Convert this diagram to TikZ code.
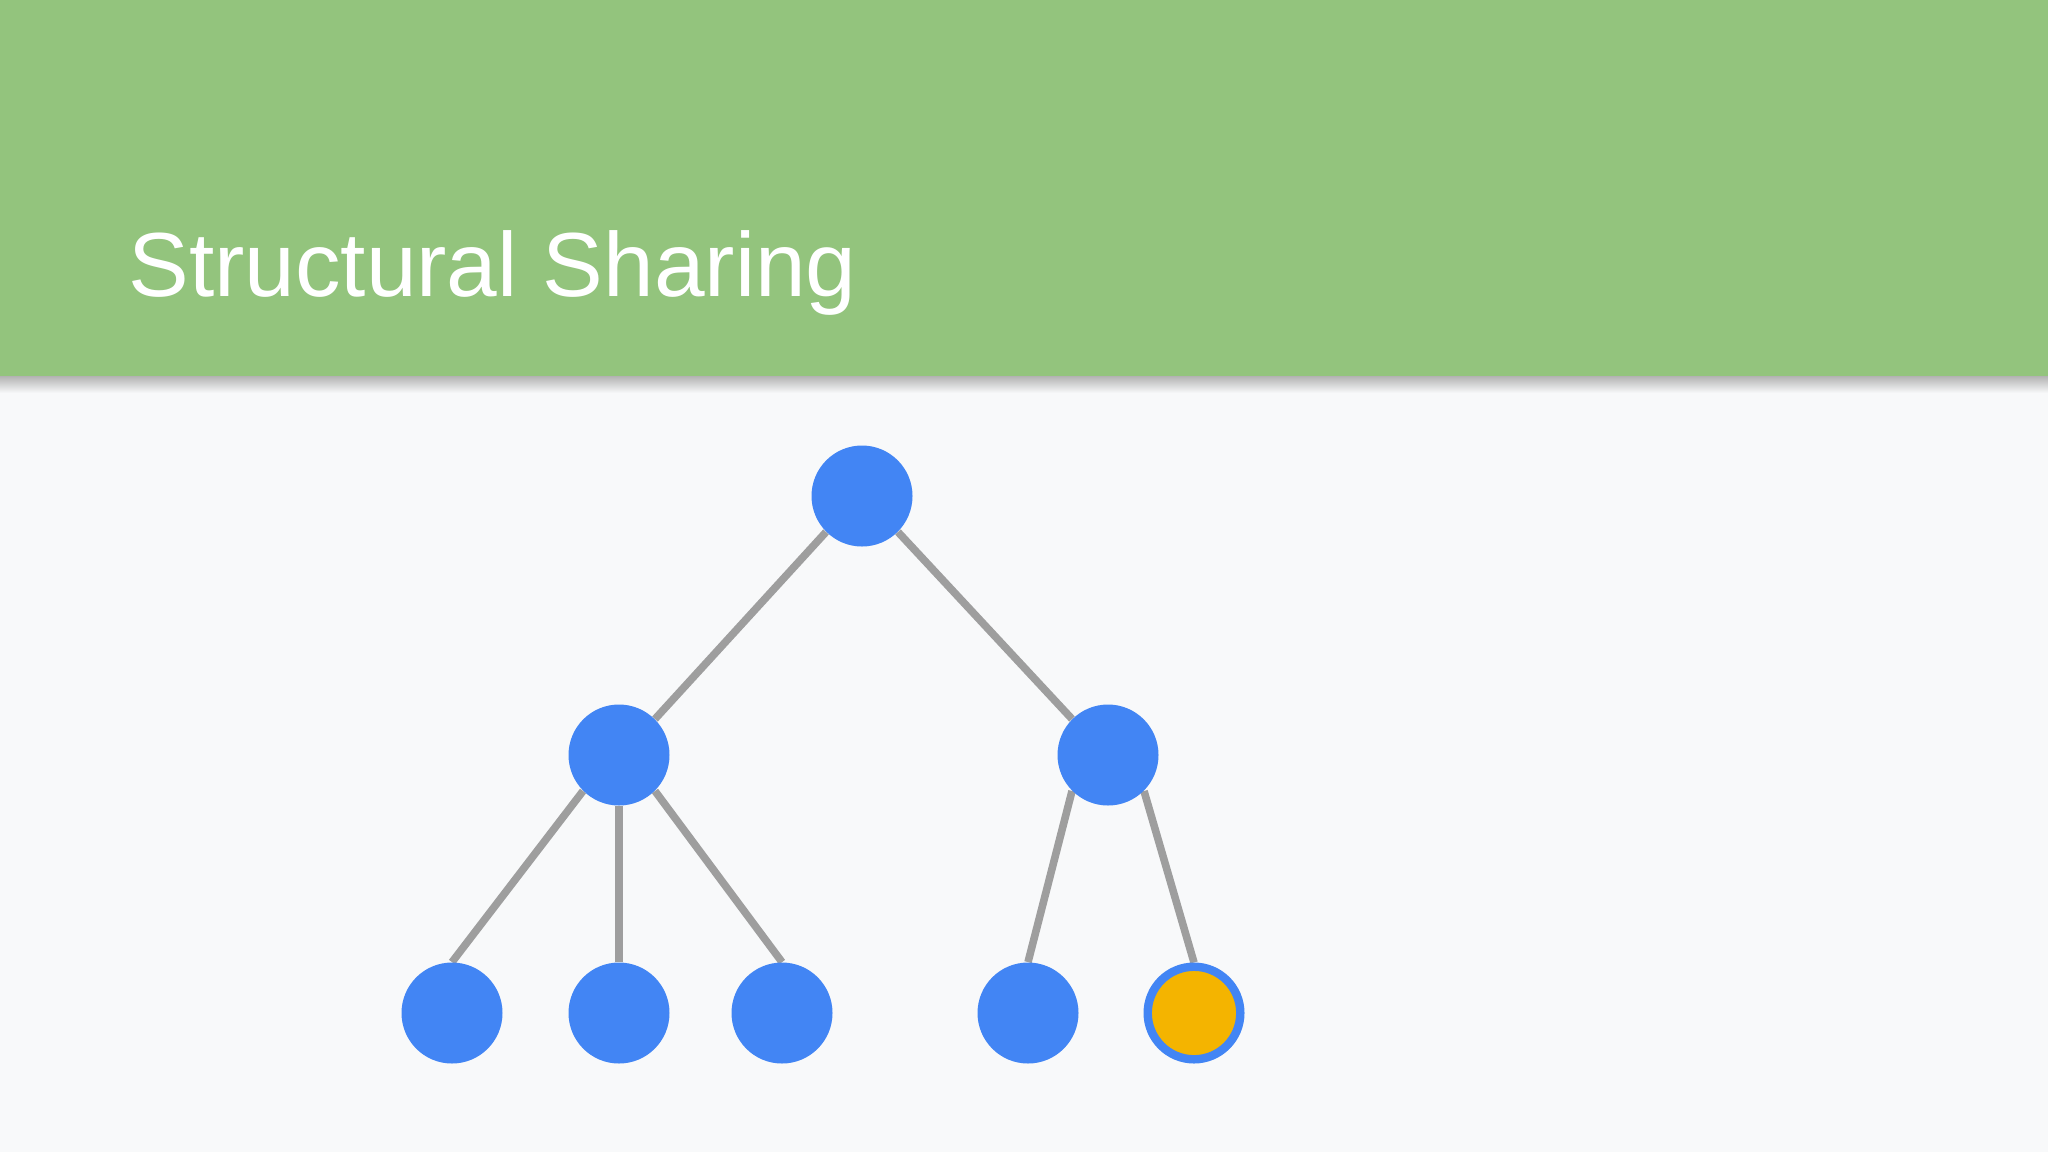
\documentclass[tikz,border=0pt]{standalone}
\usepackage{fontspec}
\setmainfont{Liberation Sans}
\usetikzlibrary{positioning,backgrounds}

\definecolor{headgreen}{HTML}{93C47D}
\definecolor{pagebg}{HTML}{F8F9FA}
\definecolor{nodeblue}{HTML}{4285F4}
\definecolor{nodeyellow}{HTML}{F4B400}
\definecolor{edgegray}{HTML}{9E9E9E}

\begin{document}
\begin{tikzpicture}[x=0.5pt,y=-0.5pt]
\begin{scope}
\tikzstyle{vertex} = [circle,fill=nodeblue,inner sep=0pt,minimum size=50.5pt]
\tikzstyle{newvertex} = [circle,fill=nodeyellow,draw=nodeblue,line width=4.2pt,inner sep=0pt,minimum size=46.3pt]
\tikzstyle{edge} = [draw=edgegray,line width=3.8pt]
\tikzstyle{title} = [anchor=base west,inner sep=0pt,text=white,font=\fontsize{45.5}{55}\selectfont]

\useasboundingbox (0,0) rectangle (2048,1152);

\node [title] (head) at (128,296) {Structural Sharing};

% tree
\node [vertex] (root) at (862,496) {};
\node [vertex] (left) at ([xshift=-121.5pt,yshift=-129.5pt]root.center) {};
\node [vertex] (right) at ([xshift=123pt,yshift=-129.5pt]root.center) {};

\node [vertex] (l1) at ([xshift=-83.5pt,yshift=-129pt]left.center) {};
\node [vertex] (l2) at ([yshift=-129pt]left.center) {};
\node [vertex] (l3) at ([xshift=81.5pt,yshift=-129pt]left.center) {};

\node [vertex] (r1) at ([xshift=-40pt,yshift=-129pt]right.center) {};
\node [newvertex] (r2) at ([xshift=43pt,yshift=-129pt]right.center) {};

\begin{scope}[on background layer]
% page and header
\fill [pagebg] (0,0) rectangle (2048,1152);
\fill [headgreen] (0,0) rectangle (2048,376);
\shade [top color=black!30,bottom color=pagebg] (0,376) rectangle (2048,393);

\draw [edge] (root.south west) -- (left.north east);
\draw [edge] (root.south east) -- (right.north west);
\draw [edge] (left.south west) -- (l1.north);
\draw [edge] (left.south) -- (l2.north);
\draw [edge] (left.south east) -- (l3.north);
\draw [edge] (right.south west) -- (r1.north);
\draw [edge] (right.south east) -- (r2.north);
\end{scope}
\end{scope}
\end{tikzpicture}
\end{document}
